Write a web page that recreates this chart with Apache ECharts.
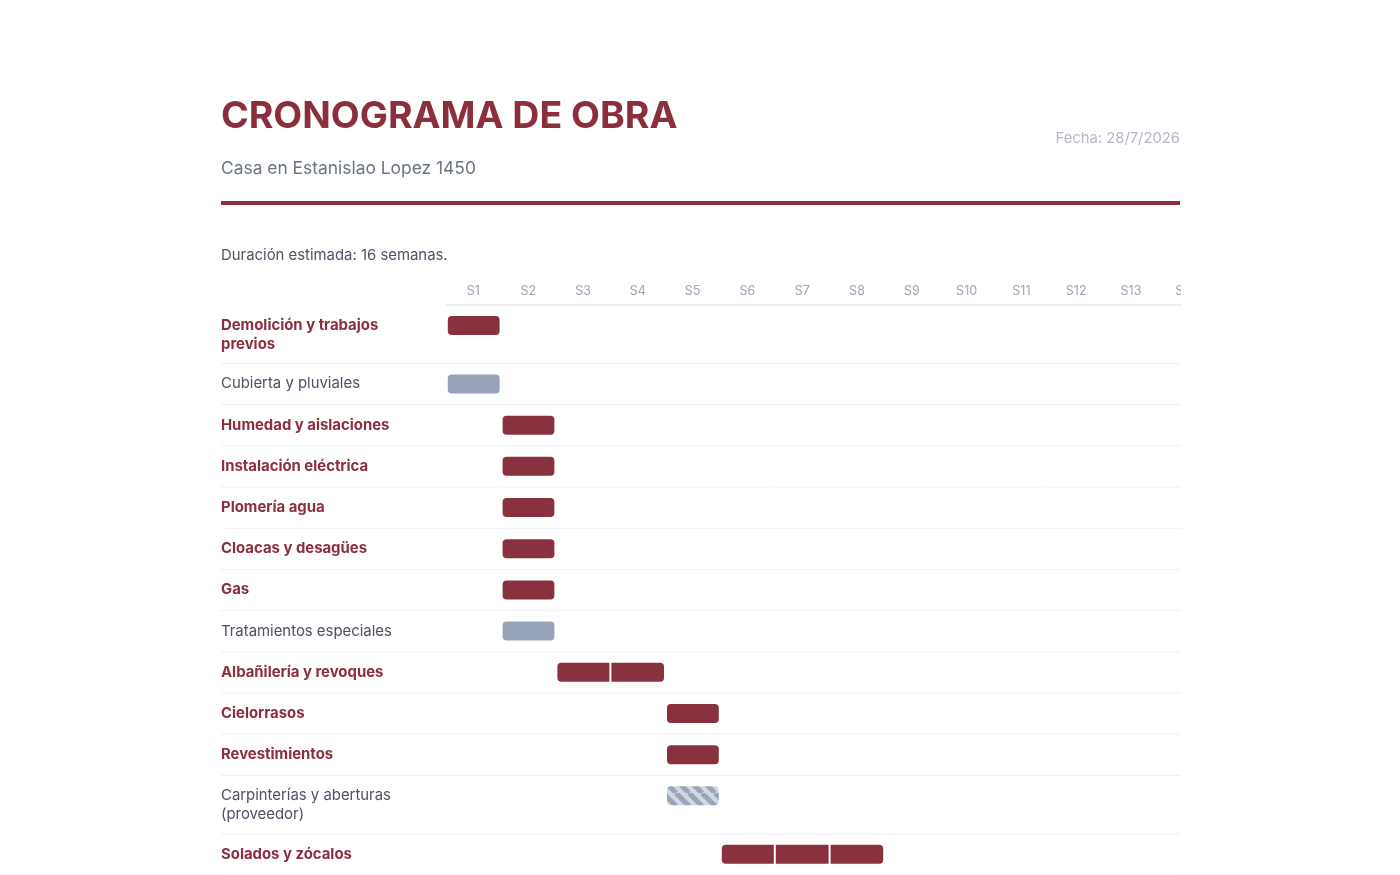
<!DOCTYPE html>
<html>
<head>
<meta charset="utf-8">
<script src="https://cdn.jsdelivr.net/npm/echarts@6/dist/echarts.min.js"></script>
<style>
  html, body { margin: 0; padding: 0; background: #fff; }
  #chart { width: 1400px; height: 875px; }
</style>
</head>
<body>
<div id="chart"></div>
<script>
// semanas del cronograma
var weeks = ['S1','S2','S3','S4','S5','S6','S7','S8','S9','S10','S11','S12','S13','S14','S15','S16'];

// tareas (el \n marca el corte de linea de la etiqueta)
var tasks = [
  'Demolición y trabajos\nprevios',
  'Cubierta y pluviales',
  'Humedad y aislaciones',
  'Instalación eléctrica',
  'Plomería agua',
  'Cloacas y desagües',
  'Gas',
  'Tratamientos especiales',
  'Albañilería y revoques',
  'Cielorrasos',
  'Revestimientos',
  'Carpinterías y aberturas\n(proveedor)',
  'Solados y zócalos'
];
// semana de inicio (0 = S1) y duracion en semanas
var startWeek = [0, 0, 1, 1, 1, 1, 1, 1, 2, 4, 4, 4, 5];
var duration  = [1, 1, 1, 1, 1, 1, 1, 1, 2, 1, 1, 1, 3];
// tipo: main = obra propia, sub = subcontrato, provider = proveedor
var kind = ['main','sub','main','main','main','main','main','sub','main','main','main','provider','main'];

var RED = '#8a3140';
var GRAY = '#97a3b8';

// alto de fila segun cantidad de lineas de la etiqueta
var rowTop = [];
var rowH = [];
var acc = 0;
tasks.forEach(function (t) {
  var lines = t.split('\n').length;
  var h = lines > 1 ? 58.5 : 41.2;
  rowTop.push(acc);
  rowH.push(h);
  acc += h;
});
var totalH = acc;

// patron rayado para proveedor
var P = 13;
var stripe = document.createElement('canvas');
stripe.width = P; stripe.height = P;
(function () {
  var c = stripe.getContext('2d');
  c.fillStyle = '#d1d8e2';
  c.fillRect(0, 0, P, P);
  c.strokeStyle = '#98a4b8';
  c.lineWidth = 5;
  for (var k = -P; k <= P; k += P) {
    c.beginPath();
    c.moveTo(k, 0);
    c.lineTo(k + P, P);
    c.stroke();
  }
})();

var barData = tasks.map(function (t, i) {
  return [startWeek[i], duration[i], rowTop[i], i];
});
var rowData = tasks.map(function (t, i) {
  return [rowTop[i], rowH[i], i];
});

var chart = echarts.init(document.getElementById('chart'));

var colW = 54.8;
var gridLeft = 446;

var option = {
  animation: false,
  grid: { left: gridLeft, top: 305, width: colW * weeks.length, height: totalH },
  xAxis: {
    type: 'category',
    data: weeks,
    position: 'top',
    axisLine: { lineStyle: { color: '#e3e7ee', width: 1.5 } },
    axisTick: { show: false },
    axisLabel: { color: '#9ca5b6', fontSize: 12.5, fontFamily: 'Inter', margin: 7 },
    splitLine: { show: false }
  },
  yAxis: {
    type: 'value', min: 0, max: totalH, inverse: true, show: false
  },
  graphic: [
    { type: 'text', left: 221, top: 98, z: 10,
      style: { text: 'CRONOGRAMA DE OBRA', fill: '#8b2f3c', font: 'bold 37.5px Inter' } },
    { type: 'text', left: 221, top: 160, z: 10,
      style: { text: 'Casa en Estanislao Lopez 1450', fill: '#6b7384', font: '17.4px Inter' } },
    { type: 'text', right: 220, top: 131, z: 10,
      style: { text: 'Fecha: 28/7/2026', fill: '#b3b9c5', font: '14.8px Inter' } },
    { type: 'rect', shape: { x: 221, y: 201, width: 959, height: 4 }, z: 10,
      style: { fill: '#8b2f3c' } },
    { type: 'text', left: 221, top: 248, z: 10,
      style: { text: 'Duración estimada: 16 semanas.', fill: '#4e5566', font: '14.9px Inter' } },
    // recorte del area desplazable
    { type: 'rect', shape: { x: 1181, y: 270, width: 230, height: 620 }, z: 100,
      style: { fill: '#ffffff' } }
  ],
  series: [
    {
      type: 'custom',
      data: rowData,
      z: 1,
      clip: false,
      renderItem: function (params, api) {
        var top = api.value(0), h = api.value(1), i = api.value(2);
        var p0 = api.coord([0, top]);
        var p1 = api.coord([0, top + h]);
        var x0 = p0[0] - api.size([1, 0])[0] / 2;
        var isMain = kind[i] === 'main';
        return {
          type: 'group',
          children: [
            {
              type: 'text',
              style: {
                x: x0 - 225, y: p0[1] + 11,
                text: tasks[i],
                fill: isMain ? '#8b2f3c' : '#4b5263',
                font: (isMain ? 'bold ' : '') + '14.9px Inter',
                lineHeight: 19,
                verticalAlign: 'top'
              }
            },
            {
              type: 'line',
              shape: { x1: x0 - 225, y1: p1[1], x2: x0 + colW * weeks.length, y2: p1[1] },
              style: { stroke: '#eef0f4', lineWidth: 1 }
            }
          ]
        };
      }
    },
    {
      type: 'custom',
      data: barData,
      z: 2,
      renderItem: function (params, api) {
        var s = api.value(0), d = api.value(1), top = api.value(2), i = api.value(3);
        var bw = api.size([1, 0])[0];
        var c0 = api.coord([s, top]);
        var xs = c0[0] - bw / 2 + 1.8;
        var xe = c0[0] - bw / 2 + d * bw - 1.2;
        var y = c0[1] + 11;
        var fill = kind[i] === 'main' ? RED : (kind[i] === 'sub' ? GRAY : { image: stripe, repeat: 'repeat' });
        var children = [{
          type: 'rect',
          shape: { x: xs, y: y, width: xe - xs, height: 19, r: 4 },
          style: { fill: fill }
        }];
        for (var k = 1; k < d; k++) {
          var xb = c0[0] - bw / 2 + k * bw;
          children.push({
            type: 'rect',
            shape: { x: xb - 1, y: y - 1, width: 2, height: 21 },
            style: { fill: '#ffffff' }
          });
        }
        return { type: 'group', children: children };
      }
    }
  ]
};

chart.setOption(option);
</script>
</body>
</html>
